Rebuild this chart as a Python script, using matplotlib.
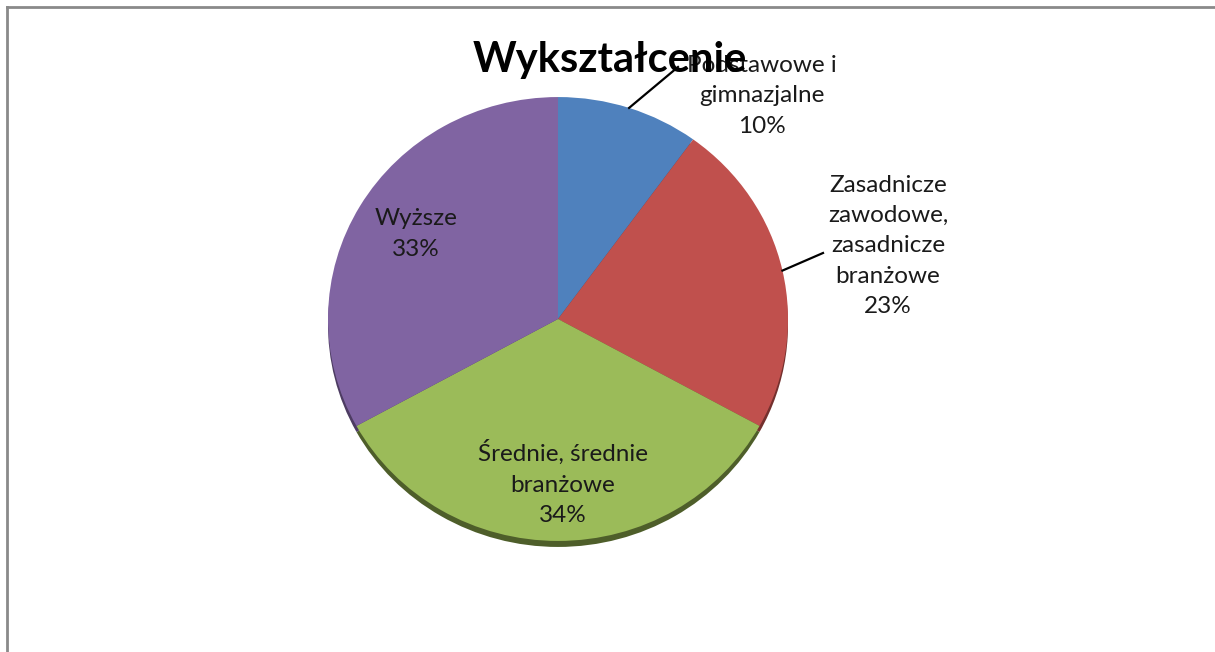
import matplotlib.pyplot as plt
import numpy as np
from matplotlib.lines import Line2D
from matplotlib.transforms import Affine2D

labels = ["Podstawowe i\ngimnazjalne", "Zasadnicze\nzawodowe,\nzasadnicze\nbranżowe",
          "Średnie, średnie\nbranżowe", "Wyższe"]
values = [10, 23, 34, 33]
colors = ["#4F81BD", "#C0504D", "#9BBB59", "#8064A2"]
shadow_colors = ["#2f4d72", "#74302e", "#4e5e2a", "#4d3c62"]
title = "Wykształcenie"

W, H = 1215, 652
plt.rcParams['font.family'] = ['Lato', 'DejaVu Sans']

fig = plt.figure(figsize=(W / 100, H / 100), dpi=100)
ax = fig.add_axes([0, 0, 1, 1])

# slightly tilted pie: squash vertically
cx, cy, r, tilt = 558, H - 319, 230, 0.965
squash = Affine2D().translate(-cx, -cy).scale(1, tilt).translate(cx, cy)

shadow, _ = ax.pie(values, colors=shadow_colors, startangle=90, counterclock=False,
                   center=(cx, cy - 6 / tilt), radius=r, wedgeprops=dict(linewidth=0))
wedges, _ = ax.pie(values, colors=colors, startangle=90, counterclock=False,
                   center=(cx, cy), radius=r, wedgeprops=dict(linewidth=0))
for w in shadow + wedges:
    w.set_transform(squash + ax.transData)

ax.set_xlim(0, W)
ax.set_ylim(0, H)
ax.set_aspect('auto')
ax.axis('off')

total = sum(values)
pcts = [f"{round(v / total * 100)}%" for v in values]

# label positions (pixels, y from top)
label_pos = [(762, 96), (888, 246), (563, 483), (416, 234)]
fs = 17.5
for i, (lab, pct) in enumerate(zip(labels, pcts)):
    x, y = label_pos[i]
    ax.text(x, H - y, lab + "\n" + pct, ha="center", va="center",
            fontsize=fs, color="#1a1a1a", linespacing=1.55, zorder=5)

# leader lines for outside labels
theta = 90.0
mids = []
for v in values:
    ang = theta - v / total * 360 / 2
    mids.append(np.deg2rad(ang))
    theta -= v / total * 360
ends = {0: (678, 67), 1: (823, 253)}
for i, (ex, ey) in ends.items():
    sx = cx + r * np.cos(mids[i])
    sy = cy + r * tilt * np.sin(mids[i])
    ax.plot([sx, ex], [sy, H - ey], color="black", lw=1.6, zorder=4)

ax.text(610, H - 60, title, ha="center", va="center", fontsize=30,
        fontweight="bold", color="black", zorder=10)

# gray frame (top and left visible)
fig.add_artist(Line2D([7 / W, 7 / W], [0, 1 - 7 / H], transform=fig.transFigure,
                      color="#8a8a8a", lw=2))
fig.add_artist(Line2D([7 / W, 1], [1 - 7 / H, 1 - 7 / H], transform=fig.transFigure,
                      color="#8a8a8a", lw=2))

fig.savefig("out.png", dpi=100, facecolor="white")
